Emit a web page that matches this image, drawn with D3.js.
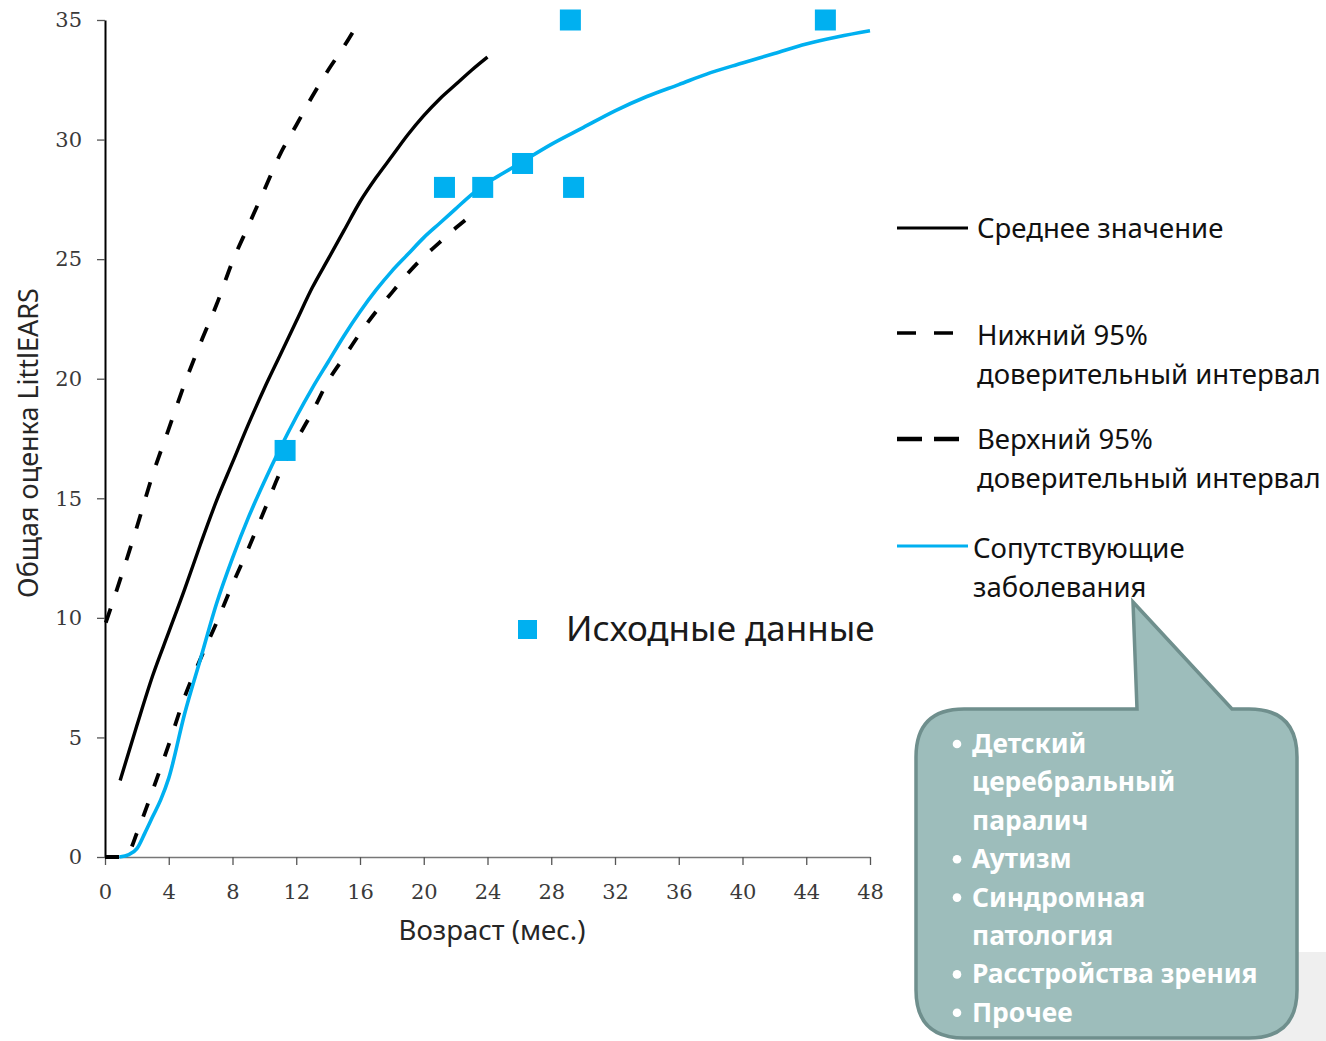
<!DOCTYPE html>
<html>
<head>
<meta charset="utf-8">
<script src="https://cdn.jsdelivr.net/npm/d3@7"></script>
<style>
  html, body { margin: 0; padding: 0; background: #ffffff; }
  svg { display: block; }
</style>
</head>
<body>
<svg id="chart" width="1326" height="1041"></svg>
<script>
// LittlEARS total score by age (months): normative mean, 95% bounds,
// children with comorbidities, and raw observations.

const xTicks = [0, 4, 8, 12, 16, 20, 24, 28, 32, 36, 40, 44, 48];
const yTicks = [0, 5, 10, 15, 20, 25, 30, 35];

const meanAge   = [0.95, 2, 3, 4, 5, 6, 7, 8, 9, 10, 11, 12, 13, 14, 15, 16, 17, 18, 19, 20, 21, 22, 23, 24];
const meanScore = [3.2, 5.5, 7.6, 9.4, 11.2, 13.1, 14.9, 16.5, 18.1, 19.6, 21.0, 22.4, 23.8, 25.0, 26.2, 27.4, 28.4, 29.3, 30.2, 31.0, 31.7, 32.3, 32.9, 33.45];

const upperAge   = [0.05, 1, 2, 3, 4, 5, 6, 7, 8, 9, 10, 11, 12, 13, 14, 15, 16];
const upperScore = [9.8, 11.7, 13.8, 16.0, 17.9, 19.8, 21.5, 23.1, 24.9, 26.4, 27.9, 29.4, 30.6, 31.8, 32.9, 33.9, 35.0];

const lowerAge   = [0, 1, 1.5, 2, 3, 4, 5, 6, 7, 8, 9, 10, 11, 12, 13, 14, 15, 16, 17, 18, 19, 20, 21, 22, 23.3];
const lowerScore = [0, 0, 0.2, 1.0, 2.8, 4.7, 6.7, 8.3, 9.8, 11.4, 12.9, 14.5, 16.1, 17.4, 18.6, 19.9, 20.9, 21.9, 22.8, 23.6, 24.4, 25.1, 25.7, 26.3, 27.0];

const comorbAge   = [0.9, 1.5, 2, 2.5, 3, 3.5, 4, 5, 6, 7, 8, 9, 10, 11, 12, 13, 14, 15, 16, 17, 18, 19, 20, 21, 22, 23, 24, 25, 26, 28, 30, 32, 34, 36, 38, 40, 42, 44, 46, 48];
const comorbScore = [0, 0.1, 0.35, 1.0, 1.7, 2.4, 3.3, 6.0, 8.3, 10.6, 12.5, 14.2, 15.7, 17.1, 18.4, 19.6, 20.7, 21.8, 22.8, 23.7, 24.5, 25.2, 25.9, 26.5, 27.1, 27.7, 28.2, 28.6, 29.0, 29.8, 30.5, 31.2, 31.8, 32.3, 32.8, 33.2, 33.6, 34.0, 34.3, 34.55];

const rawAge   = [11.3, 21.3, 23.7, 26.2, 29.2, 29.4, 45.2];
const rawScore = [17, 28, 28, 29, 35, 28, 35];

const legendLabels = [
  ["Среднее значение"],
  ["Нижний 95%", "доверительный интервал"],
  ["Верхний 95%", "доверительный интервал"],
  ["Сопутствующие", "заболевания"]
];
const rawLabel = "Исходные данные";
const calloutItems = [
  ["Детский", "церебральный", "паралич"],
  ["Аутизм"],
  ["Синдромная", "патология"],
  ["Расстройства зрения"],
  ["Прочее"]
];

const BLUE = "#00B0F0";
const svg = d3.select("#chart");

const x = d3.scaleLinear().domain([0, 48]).range([105, 870]);
const y = d3.scaleLinear().domain([0, 35]).range([857, 20]);

const zip = (a, b) => a.map((v, i) => [v, b[i]]);
const line = d3.line().x(d => x(d[0])).y(d => y(d[1])).curve(d3.curveMonotoneX);

// soft grey panel in the lower right corner, behind the callout
svg.append("rect")
  .attr("x", 1150).attr("y", 952).attr("width", 176).attr("height", 89)
  .attr("fill", "#efefef");

// axes
const yAxis = svg.append("g")
  .attr("transform", `translate(${x(0)},0)`)
  .call(d3.axisLeft(y).tickValues(yTicks).tickSize(8).tickPadding(15).tickSizeOuter(0));
yAxis.select(".domain").attr("stroke", "#000").attr("stroke-width", 2);
yAxis.selectAll(".tick line").attr("stroke", "#555").attr("stroke-width", 1.3);
yAxis.selectAll("text").attr("font-family", "DejaVu Serif").attr("font-size", 21).attr("fill", "#3a3a3a");

const xAxis = svg.append("g")
  .attr("transform", `translate(0,${y(0)})`)
  .call(d3.axisBottom(x).tickValues(xTicks).tickSize(8).tickPadding(19).tickSizeOuter(0));
xAxis.select(".domain").attr("stroke", "#777").attr("stroke-width", 1.5);
xAxis.selectAll(".tick line").attr("stroke", "#555").attr("stroke-width", 1.3);
xAxis.selectAll("text").attr("font-family", "DejaVu Serif").attr("font-size", 21).attr("fill", "#3a3a3a");

// axis titles
svg.append("text")
  .attr("x", 492).attr("y", 940)
  .attr("text-anchor", "middle")
  .attr("font-family", "Noto Sans").attr("font-size", 27.5).attr("fill", "#262626")
  .text("Возраст (мес.)");
svg.append("text")
  .attr("transform", "translate(38,443) rotate(-90)")
  .attr("text-anchor", "middle")
  .attr("font-family", "Noto Sans").attr("font-size", 27).attr("fill", "#262626")
  .text("Общая оценка LittlEARS");

// curves
const series = [
  { age: upperAge,  score: upperScore,  stroke: "#000", width: 3.8, dash: "15,18" },
  { age: lowerAge,  score: lowerScore,  stroke: "#000", width: 3.8, dash: "14,18" },
  { age: meanAge,   score: meanScore,   stroke: "#000", width: 3.4, dash: null },
  { age: comorbAge, score: comorbScore, stroke: BLUE,   width: 3.6, dash: null }
];
svg.append("g").selectAll("path")
  .data(series)
  .join("path")
  .attr("d", s => line(zip(s.age, s.score)))
  .attr("fill", "none")
  .attr("stroke", s => s.stroke)
  .attr("stroke-width", s => s.width)
  .attr("stroke-dasharray", s => s.dash)
  .attr("stroke-linejoin", "round");

// raw observations
const SQ = 21;
svg.append("g").selectAll("rect")
  .data(zip(rawAge, rawScore))
  .join("rect")
  .attr("x", d => x(d[0]) - SQ / 2)
  .attr("y", d => y(d[1]) - SQ / 2)
  .attr("width", SQ).attr("height", SQ)
  .attr("fill", BLUE);

// legend for observations
svg.append("rect").attr("x", 518).attr("y", 620).attr("width", 19).attr("height", 19).attr("fill", BLUE);
svg.append("text")
  .attr("x", 566).attr("y", 641)
  .attr("font-family", "Noto Sans").attr("font-size", 35).attr("fill", "#1a1a1a")
  .text(rawLabel);

// legend for curves
const legendRows = [
  { y: 228, stroke: "#000", width: 3.2, dash: null,    tx: 977, base: 238 },
  { y: 333, stroke: "#000", width: 3.6, dash: "19,18", tx: 977, base: 345 },
  { y: 439, stroke: "#000", width: 4.4, dash: "25,12", tx: 977, base: 449 },
  { y: 546, stroke: BLUE,   width: 3.2, dash: null,    tx: 973, base: 558 }
];
const lg = svg.append("g");
legendRows.forEach((r, i) => {
  lg.append("line")
    .attr("x1", 897).attr("x2", 968).attr("y1", r.y).attr("y2", r.y)
    .attr("stroke", r.stroke).attr("stroke-width", r.width)
    .attr("stroke-dasharray", r.dash);
  const t = lg.append("text")
    .attr("x", r.tx).attr("y", r.base)
    .attr("font-family", "Noto Sans").attr("font-size", 27.5).attr("fill", "#111");
  legendLabels[i].forEach((s, j) => {
    t.append("tspan").attr("x", r.tx).attr("dy", j === 0 ? 0 : 39).text(s);
  });
});

// callout bubble with pointer up to the comorbidity legend entry
const bx0 = 916, bx1 = 1297, by0 = 709, by1 = 1038, rr = 48;
const px0 = 1137, px1 = 1232, apx = 1133, apy = 602;
const bubble = [
  `M${bx0 + rr},${by0}`,
  `L${px0},${by0}`, `L${apx},${apy}`, `L${px1},${by0}`,
  `L${bx1 - rr},${by0}`, `Q${bx1},${by0} ${bx1},${by0 + rr}`,
  `L${bx1},${by1 - rr}`, `Q${bx1},${by1} ${bx1 - rr},${by1}`,
  `L${bx0 + rr},${by1}`, `Q${bx0},${by1} ${bx0},${by1 - rr}`,
  `L${bx0},${by0 + rr}`, `Q${bx0},${by0} ${bx0 + rr},${by0}`, "Z"
].join(" ");
svg.append("path").attr("d", bubble)
  .attr("fill", "#9dbdbb").attr("stroke", "#6f8f8d").attr("stroke-width", 3.5);

const cg = svg.append("g")
  .attr("font-family", "Noto Sans").attr("font-weight", "bold")
  .attr("font-size", 26.4).attr("fill", "#ffffff");
let lineIdx = 0;
const firstBase = 753, lineStep = 38.4;
calloutItems.forEach(item => {
  const by = firstBase + lineIdx * lineStep;
  cg.append("circle").attr("cx", 957).attr("cy", by - 9).attr("r", 4.3);
  item.forEach(s => {
    cg.append("text").attr("x", 972).attr("y", firstBase + lineIdx * lineStep).text(s);
    lineIdx++;
  });
});
</script>
</body>
</html>
